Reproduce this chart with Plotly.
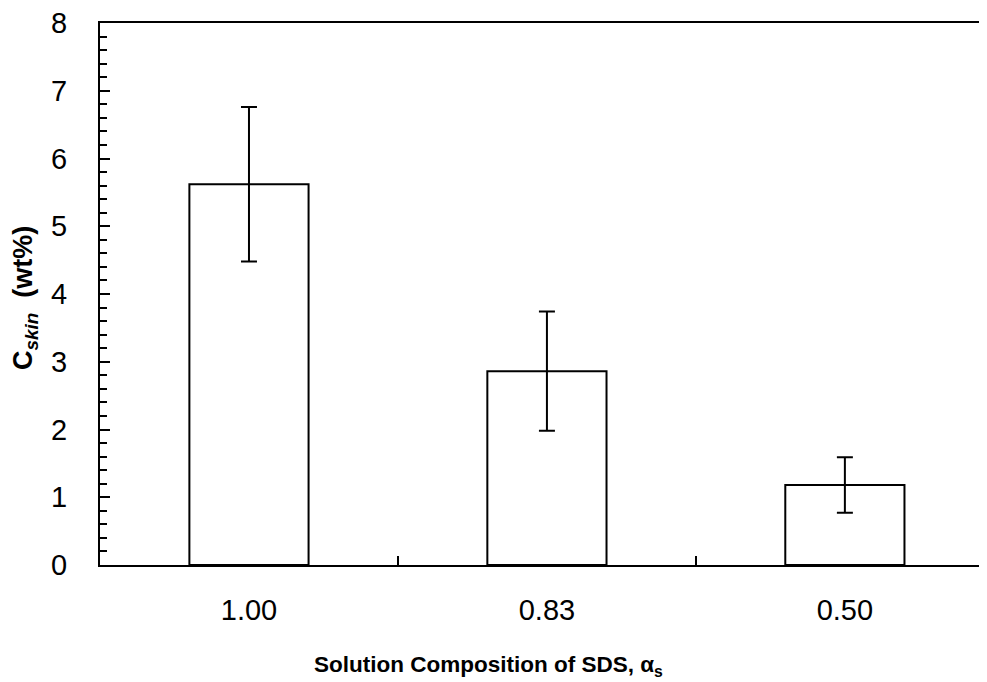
import plotly.graph_objects as go

categories = ["1.00", "0.83", "0.50"]
values = [5.62, 2.86, 1.18]
errors = [1.14, 0.88, 0.41]

FONT = "Liberation Sans, Arial, sans-serif"

# page body has an 8px margin; compensate so the plot lands where the reference has it
fig = go.Figure()
fig.add_trace(go.Bar(
    x=categories, y=values, width=0.4,
    marker=dict(color="white", line=dict(color="black", width=2)),
    error_y=dict(type="data", array=errors, visible=True, color="black",
                 thickness=2, width=8),
    showlegend=False,
))

fig.update_layout(
    width=979, height=674,
    margin=dict(l=92, r=0, t=15, b=117, autoexpand=False),
    paper_bgcolor="white", plot_bgcolor="white",
    font=dict(family=FONT, size=29, color="black"),
)
fig.update_xaxes(
    type="category", range=[-0.5, 2.477], automargin=False,
    showline=True, linecolor="black", linewidth=2, mirror=True,
    ticks="inside", tickson="boundaries", ticklen=9, tickwidth=2, tickcolor="black",
    ticklabelstandoff=18, ticklabeloverflow="allow",
    tickfont=dict(family=FONT, size=29),
    showgrid=False, zeroline=False,
)
fig.update_yaxes(
    range=[0, 8], dtick=1, automargin=False,
    showline=True, linecolor="black", linewidth=2,
    ticks="inside", ticklen=10, tickwidth=2, tickcolor="black",
    minor=dict(dtick=0.2, ticks="inside", ticklen=7, tickwidth=2, tickcolor="black"),
    ticklabelstandoff=25, ticklabeloverflow="allow",
    tickfont=dict(family=FONT, size=29),
    showgrid=False, zeroline=False,
)
fig.add_annotation(
    text="<b>C<sub><i>skin</i></sub>  (wt%)</b>",
    xref="paper", yref="paper", x=(25 - 100) / 887, y=(565 - 298) / 542,
    xanchor="center", yanchor="middle", textangle=-90, showarrow=False,
    font=dict(family=FONT, size=27),
)
fig.add_annotation(
    text="<b>Solution Composition of SDS, α<sub>s</sub></b>",
    xref="paper", yref="paper", x=(488 - 100) / 887, y=-(666 - 565) / 542,
    xanchor="center", yanchor="middle", showarrow=False,
    font=dict(family=FONT, size=22.5),
)

fig.write_html("out.html")
